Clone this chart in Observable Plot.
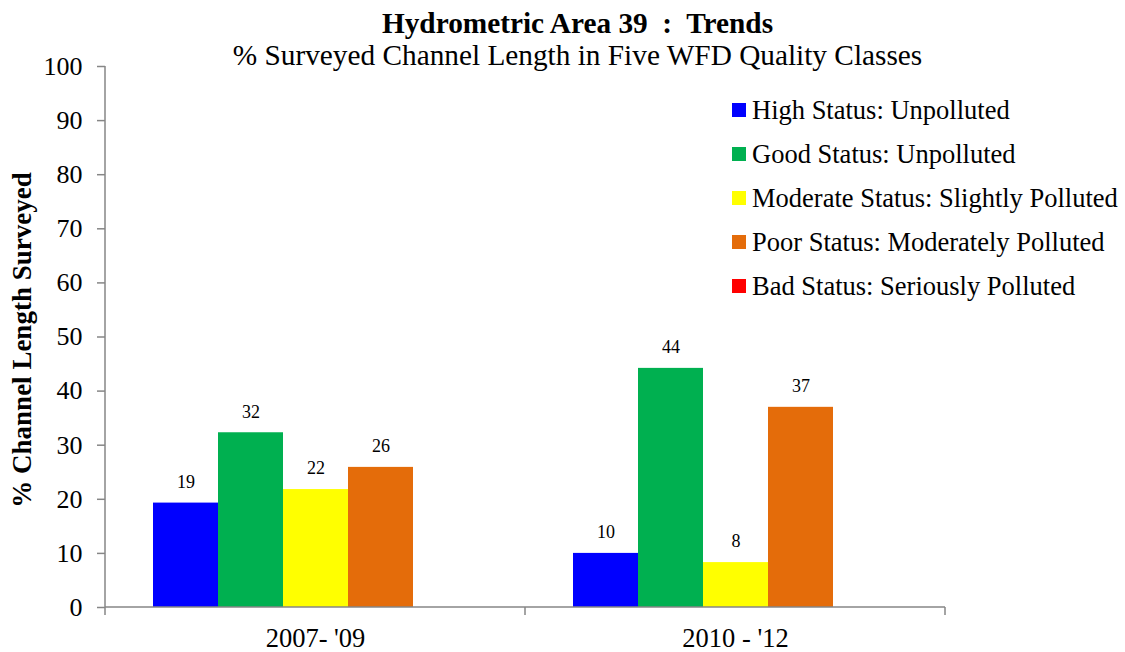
<!DOCTYPE html>
<html><head><meta charset="utf-8">
<script src="https://cdn.jsdelivr.net/npm/d3@7"></script>
<script src="https://cdn.jsdelivr.net/npm/@observablehq/plot@0.6"></script>
<style>
body{margin:0;background:#fff;}
#wrap{position:relative;width:1125px;height:652px;font-family:"Liberation Serif","Times New Roman",serif;color:#000;overflow:hidden;}
#title{position:absolute;left:0;width:1155px;top:8px;text-align:center;font-weight:bold;font-size:29.3px;line-height:30px;white-space:pre;}
#subtitle{position:absolute;left:0;width:1155px;top:41px;text-align:center;font-size:29.3px;line-height:29px;white-space:pre;}
#ylabel{position:absolute;left:22px;top:340px;transform:translate(-50%,-50%) rotate(-90deg);font-weight:bold;font-size:27px;white-space:nowrap;}
#legend{position:absolute;left:732px;top:88px;font-size:26.5px;}
.row{display:flex;align-items:center;height:44px;white-space:nowrap;}
.sw{width:14px;height:14px;margin-right:6px;}
#chart{position:absolute;left:0;top:0;}
</style></head>
<body>
<div id="wrap">
<div id="chart"></div>
<div id="title"></div>
<div id="subtitle"></div>
<div id="ylabel"></div>
<div id="legend"></div>
</div>
<script>
const titleText = "Hydrometric Area 39  :  Trends";
const subtitleText = "% Surveyed Channel Length in Five WFD Quality Classes";
const yLabelText = "% Channel Length Surveyed";
const periods = ["2007- '09", "2010 - '12"];
const series = ["High Status: Unpolluted", "Good Status: Unpolluted", "Moderate Status: Slightly Polluted", "Poor Status: Moderately Polluted", "Bad Status: Seriously Polluted"];
const colors = ["#0000FF", "#00B050", "#FFFF00", "#E46C0A", "#FF0000"];
const highValues = [19.3, 10.0];
const goodValues = [32.3, 44.2];
const moderateValues = [21.8, 8.3];
const poorValues = [25.9, 37.0];
const badValues = [0, 0];
const yTicks = [0, 10, 20, 30, 40, 50, 60, 70, 80, 90, 100];

const seriesValues = [highValues, goodValues, moderateValues, poorValues, badValues];
const data = [];
periods.forEach((p, i) => series.forEach((s, j) => data.push({period: p, series: s, value: seriesValues[j][i]})));

document.getElementById("title").textContent = titleText;
document.getElementById("subtitle").textContent = subtitleText;
document.getElementById("ylabel").textContent = yLabelText;
const legend = document.getElementById("legend");
series.forEach((s, j) => {
  const row = document.createElement("div"); row.className = "row";
  const sw = document.createElement("div"); sw.className = "sw"; sw.style.background = colors[j];
  const t = document.createElement("span"); t.textContent = s;
  row.appendChild(sw); row.appendChild(t); legend.appendChild(row);
});

const axisGray = "#868686";
const plot = Plot.plot({
  width: 1125, height: 652,
  marginLeft: 105, marginRight: 180, marginTop: 66, marginBottom: 45,
  style: {fontFamily: "'Liberation Serif','Times New Roman',serif", fontSize: "26px", background: "transparent", color: "black"},
  fx: {domain: periods, padding: 0, label: null},
  x: {domain: series, paddingInner: 0, paddingOuter: 0.73, axis: null},
  y: {domain: [0, 100], label: null},
  color: {domain: series, range: colors},
  marks: [
    Plot.barY(data, {fx: "period", x: "series", y: "value", fill: "series"}),
    Plot.text(data.filter(d => d.value > 0), {fx: "period", x: "series", y: "value", text: d => String(Math.round(d.value)), dy: -21, fontSize: 18, fill: "black"}),
    Plot.axisY({ticks: yTicks, tickSize: 8, tickPadding: 15, stroke: axisGray, strokeWidth: 1.5, fill: "black", fontSize: 26, label: null}),
    Plot.axisFx({anchor: "bottom", tickSize: 0, tickPadding: 21, fill: "black", fontSize: 26.5, label: null})
  ]
});
document.getElementById("chart").appendChild(plot);

// axis lines and category boundary ticks, positioned through the plot's own scales
const fx = plot.scale("fx"), y = plot.scale("y");
const y0 = y.apply(0), yTop = y.apply(100);
const edges = periods.map(p => fx.apply(p));
edges.push(fx.apply(periods[periods.length - 1]) + fx.bandwidth);
const svg = d3.select(plot);
const g = svg.append("g").attr("stroke", axisGray).attr("stroke-width", 1.5);
g.append("line").attr("x1", edges[0]).attr("x2", edges[edges.length - 1]).attr("y1", y0).attr("y2", y0);
g.append("line").attr("x1", edges[0]).attr("x2", edges[0]).attr("y1", yTop).attr("y2", y0);
edges.forEach(e => g.append("line").attr("x1", e).attr("x2", e).attr("y1", y0).attr("y2", y0 + 8));
</script>
</body></html>
